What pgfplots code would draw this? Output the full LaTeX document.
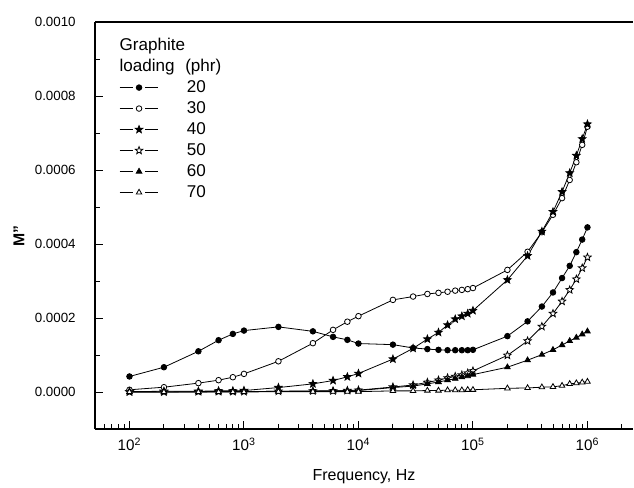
\documentclass[border=0pt]{standalone}
\usepackage{fontspec}
\setmainfont{Liberation Sans}
\usepackage{pgfplots}
\usepackage{pgfplotstable}
\pgfplotsset{compat=1.18}

\pgfdeclareplotmark{pstar}{%
  \pgfpathmoveto{\pgfpointpolar{90}{1.4*\pgfplotmarksize}}%
  \pgfpathlineto{\pgfpointpolar{126}{0.6*\pgfplotmarksize}}%
  \pgfpathlineto{\pgfpointpolar{162}{1.4*\pgfplotmarksize}}%
  \pgfpathlineto{\pgfpointpolar{198}{0.6*\pgfplotmarksize}}%
  \pgfpathlineto{\pgfpointpolar{234}{1.4*\pgfplotmarksize}}%
  \pgfpathlineto{\pgfpointpolar{270}{0.6*\pgfplotmarksize}}%
  \pgfpathlineto{\pgfpointpolar{306}{1.4*\pgfplotmarksize}}%
  \pgfpathlineto{\pgfpointpolar{342}{0.6*\pgfplotmarksize}}%
  \pgfpathlineto{\pgfpointpolar{18}{1.4*\pgfplotmarksize}}%
  \pgfpathlineto{\pgfpointpolar{54}{0.6*\pgfplotmarksize}}%
  \pgfpathclose
  \pgfusepathqfillstroke
}

\pgfplotstableread{
f      p20      p30      p40      p50      p60      p70
100    4.2e-5   0.6e-5   0.1e-5   0.0      0.0      0.0
200    6.7e-5   1.3e-5   0.2e-5   0.0      0.0      0.0
400    11.0e-5  2.4e-5   0.2e-5   0.1e-5   0.0      0.0
600    14.0e-5  3.2e-5   0.3e-5   0.1e-5   0.1e-5   0.0
800    15.7e-5  4.0e-5   0.3e-5   0.1e-5   0.1e-5   0.0
1000   16.6e-5  4.9e-5   0.4e-5   0.1e-5   0.1e-5   0.0
2000   17.6e-5  8.3e-5   1.2e-5   0.2e-5   0.2e-5   0.1e-5
4000   16.4e-5  13.2e-5  2.2e-5   0.3e-5   0.2e-5   0.1e-5
6000   14.9e-5  16.8e-5  3.1e-5   0.3e-5   0.3e-5   0.1e-5
8000   14.1e-5  19.0e-5  4.1e-5   0.4e-5   0.3e-5   0.1e-5
10000  13.1e-5  20.5e-5  5.0e-5   0.5e-5   0.4e-5   0.1e-5
20000  12.8e-5  24.9e-5  8.9e-5   1.35e-5  1.2e-5   0.3e-5
30000  11.9e-5  25.8e-5  11.8e-5  1.9e-5   1.6e-5   0.3e-5
40000  11.6e-5  26.5e-5  14.3e-5  2.6e-5   2.2e-5   0.4e-5
50000  11.4e-5  26.8e-5  16.1e-5  3.2e-5   2.7e-5   0.4e-5
60000  11.3e-5  27.1e-5  18.1e-5  3.8e-5   3.2e-5   0.5e-5
70000  11.3e-5  27.4e-5  19.7e-5  4.2e-5   3.6e-5   0.5e-5
80000  11.3e-5  27.6e-5  20.5e-5  4.6e-5   4.0e-5   0.5e-5
90000  11.3e-5  27.8e-5  21.2e-5  5.1e-5   4.3e-5   0.6e-5
100000 11.4e-5  28.1e-5  22.0e-5  5.7e-5   4.7e-5   0.6e-5
200000 15.1e-5  33.0e-5  30.3e-5  9.9e-5   6.7e-5   1.0e-5
300000 19.1e-5  37.9e-5  36.8e-5  13.8e-5  8.6e-5   1.1e-5
400000 23.1e-5  43.2e-5  43.4e-5  17.7e-5  10.1e-5  1.3e-5
500000 26.9e-5  47.9e-5  48.7e-5  21.2e-5  11.4e-5  1.4e-5
600000 30.8e-5  52.4e-5  54.1e-5  24.5e-5  12.7e-5  1.7e-5
700000 34.1e-5  57.3e-5  59.2e-5  27.6e-5  13.8e-5  2.2e-5
800000 37.8e-5  62.1e-5  63.9e-5  30.5e-5  14.7e-5  2.4e-5
900000 41.2e-5  66.8e-5  68.4e-5  33.5e-5  15.6e-5  2.6e-5
1000000 44.5e-5 71.7e-5  72.4e-5  36.4e-5  16.4e-5  2.8e-5
}\datatable

\begin{document}
\begin{tikzpicture}
\begin{axis}[
  at={(0pt,0pt)}, anchor=south west,
  scale only axis, width=403.5pt, height=305.25pt,
  xmode=log, xmin=50, xmax=2.5e6,
  ymin=-0.0001, ymax=0.0010,
  scaled y ticks=false,
  axis x line*=bottom, axis y line*=left,
  axis line style={line width=0.9pt, black},
  tick align=inside,
  major tick length=6pt, minor tick length=3.5pt,
  tick style={black, line width=0.7pt},
  xtick={100,1000,10000,100000,1000000},
  xticklabels={10\textsuperscript{2},10\textsuperscript{3},10\textsuperscript{4},10\textsuperscript{5},10\textsuperscript{6}},
  minor xtick={60,70,80,90,200,300,400,500,600,700,800,900,2000,3000,4000,5000,6000,7000,8000,9000,20000,30000,40000,50000,60000,70000,80000,90000,200000,300000,400000,500000,600000,700000,800000,900000,2000000},
  ytick={0,0.0002,0.0004,0.0006,0.0008,0.0010},
  yticklabels={0.0000,0.0002,0.0004,0.0006,0.0008,0.0010},
  minor ytick={0.0001,0.0003,0.0005,0.0007,0.0009},
  xticklabel style={font=\fontsize{11.4}{13}\selectfont, yshift=-3pt},
  yticklabel style={font=\fontsize{10}{12}\selectfont, anchor=east, xshift=-11pt},
  xlabel={Frequency, Hz},
  xlabel style={font=\fontsize{12}{14}\selectfont, at={(axis description cs:0.5,-0.1253)}, anchor=base},
  ylabel={M"},
  ylabel style={font=\fontsize{11.8}{14}\selectfont\bfseries, at={(axis description cs:-0.1413,0.4742)}, anchor=center},
  every axis plot/.append style={black, line width=0.6pt, mark size=2.1pt, mark options={solid, line width=0.5pt}},
  legend image code/.code={
    \draw[#1,mark=none] (0pt,0pt) -- (10pt,0pt);
    \draw[#1,mark=none] (19pt,0pt) -- (29pt,0pt);
    \draw[#1,only marks] plot coordinates {(14.5pt,0pt)};
  },
  legend style={at={(axis description cs:0.0452,0.856)}, anchor=north west,
    draw=none, fill=none, inner sep=0pt, outer sep=0pt,
    font=\fontsize{12.8}{15}\selectfont,
    nodes={inner sep=0pt}, row sep=5.3pt, column sep=21pt},
  legend cell align=left,
  clip=false,
]
\addplot[mark=*, mark options={fill=black}] table[x=f,y=p20] {\datatable};
\addlegendentry{20}
\addplot[mark=*, mark options={fill=white}] table[x=f,y=p30] {\datatable};
\addlegendentry{30}
\addplot[mark=pstar, mark options={fill=black}] table[x=f,y=p40] {\datatable};
\addlegendentry{40}
\addplot[mark=pstar, mark options={fill=white}] table[x=f,y=p50] {\datatable};
\addlegendentry{50}
\addplot[mark=triangle*, mark size=2.4pt, mark options={fill=black}] table[x=f,y=p60] {\datatable};
\addlegendentry{60}
\addplot[mark=triangle*, mark size=2.4pt, mark options={fill=white}] table[x=f,y=p70] {\datatable};
\addlegendentry{70}
\draw[line width=0.9pt, black] (rel axis cs:0,1) -- (rel axis cs:1,1);
\node[anchor=base west, inner sep=0pt, font=\fontsize{12.8}{15}\selectfont] at (axis description cs:0.0452,0.9305) {Graphite};
\node[anchor=base west, inner sep=0pt, font=\fontsize{12.8}{15}\selectfont] at (axis description cs:0.0452,0.8796) {loading};
\node[anchor=base west, inner sep=0pt, font=\fontsize{12.8}{15}\selectfont] at (axis description cs:0.1673,0.8796) {(phr)};
\end{axis}
\path (-71.25pt,-42pt) rectangle (404.25pt,321.75pt);
\end{tikzpicture}
\end{document}
